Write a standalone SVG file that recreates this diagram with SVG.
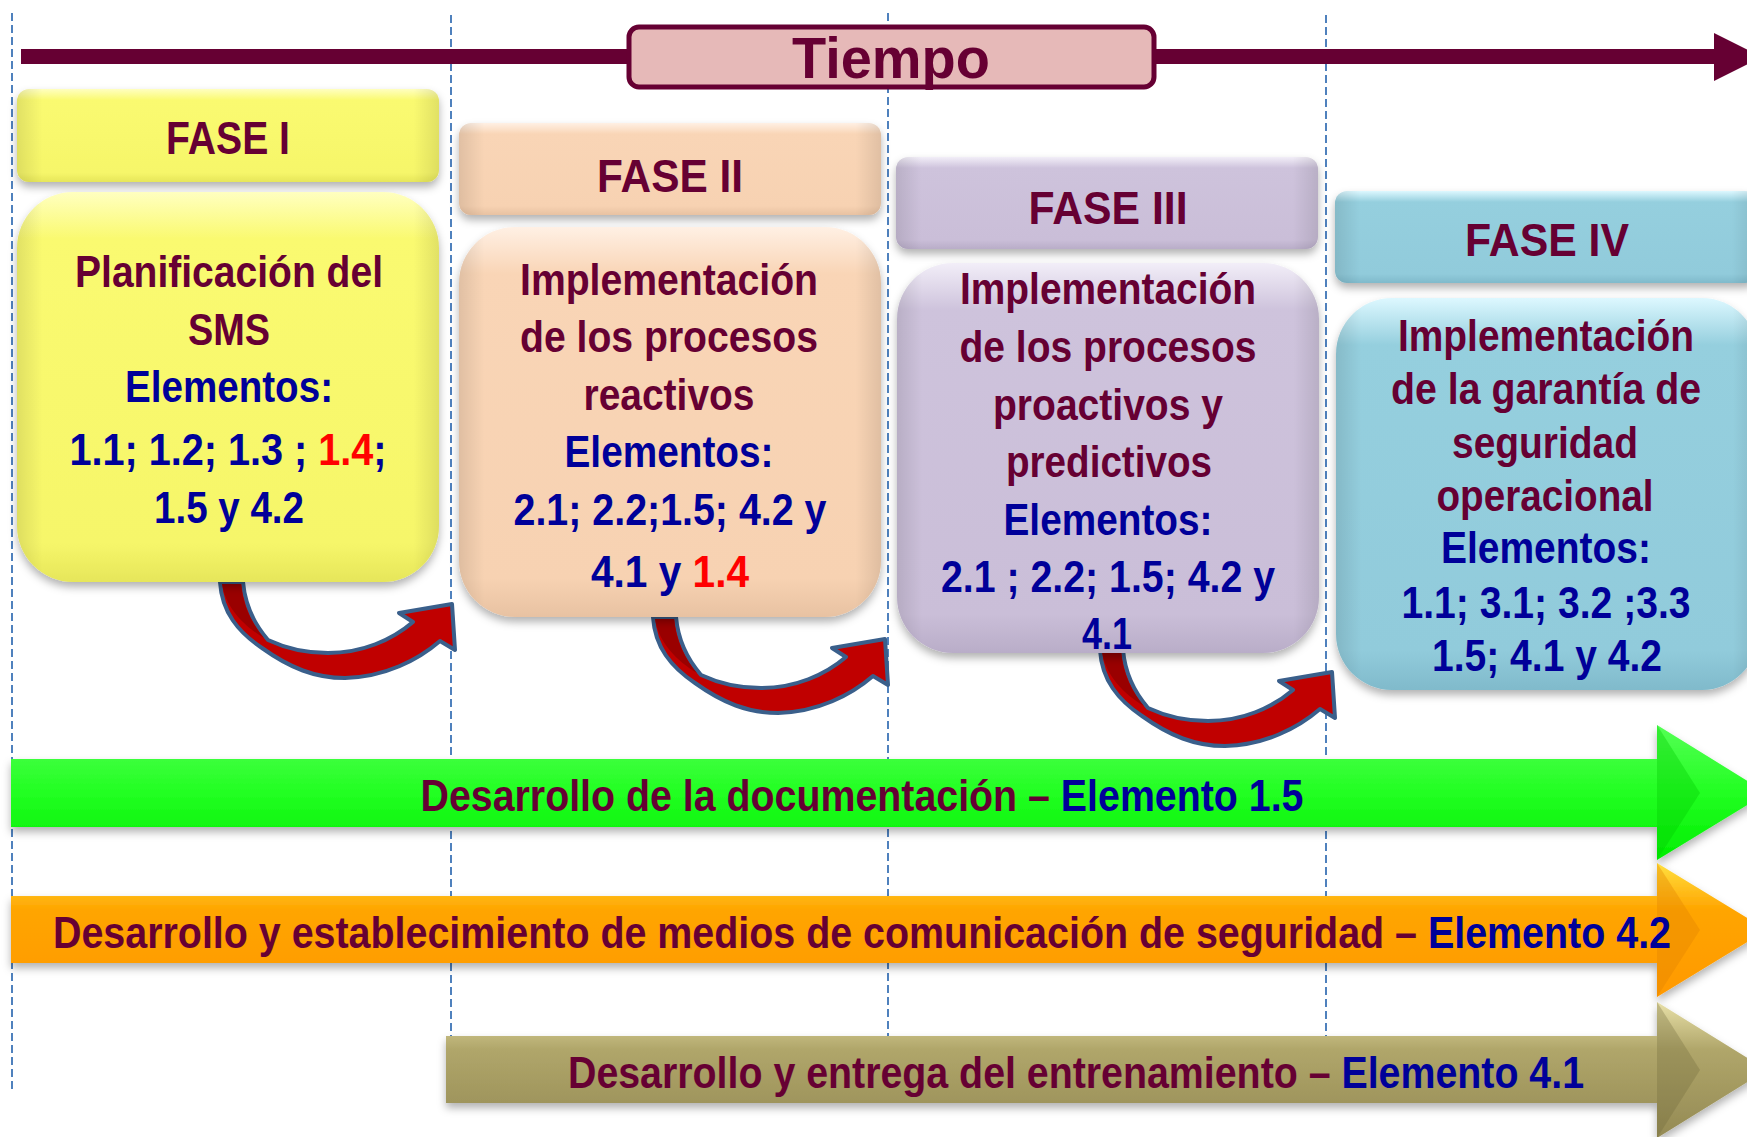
<svg xmlns="http://www.w3.org/2000/svg" width="1747" height="1137" viewBox="0 0 1747 1137">
<defs>
<style>
.t{font-family:"Liberation Sans",Arial,sans-serif;font-weight:bold;text-anchor:middle}
.m{fill:#660033}.b{fill:#000099}
.h{font-size:46px}.c{font-size:44px}.bt{font-size:45px}
.dash{stroke:#4F81BD;stroke-width:2;stroke-dasharray:8 4;fill:none}
.arr{fill:#C00000;stroke:#3A5F8B;stroke-width:4;stroke-linejoin:round}
.side{fill:url(#side)}
</style>
<filter id="sh" x="-10%" y="-10%" width="120%" height="130%">
<feDropShadow dx="0" dy="5" stdDeviation="4" flood-color="#000" flood-opacity="0.3"/>
</filter>
<linearGradient id="gy" x1="0" y1="0" x2="0" y2="1">
<stop offset="0" stop-color="#FFFFC0"/><stop offset="0.12" stop-color="#FAFA70"/><stop offset="0.9" stop-color="#F6F66A"/><stop offset="1" stop-color="#E6E65A"/>
</linearGradient>
<linearGradient id="gp" x1="0" y1="0" x2="0" y2="1">
<stop offset="0" stop-color="#FFF0E4"/><stop offset="0.12" stop-color="#F9D5B6"/><stop offset="0.9" stop-color="#F7D2B2"/><stop offset="1" stop-color="#E8C2A2"/>
</linearGradient>
<linearGradient id="gl" x1="0" y1="0" x2="0" y2="1">
<stop offset="0" stop-color="#F2EEF8"/><stop offset="0.12" stop-color="#CEC3DC"/><stop offset="0.9" stop-color="#CABED8"/><stop offset="1" stop-color="#B9ADC8"/>
</linearGradient>
<linearGradient id="gb" x1="0" y1="0" x2="0" y2="1">
<stop offset="0" stop-color="#DDF8FF"/><stop offset="0.12" stop-color="#95CFDE"/><stop offset="0.9" stop-color="#91CBDB"/><stop offset="1" stop-color="#80BACB"/>
</linearGradient>
<linearGradient id="side" x1="0" y1="0" x2="1" y2="0">
<stop offset="0" stop-color="#000" stop-opacity="0.1"/><stop offset="0.06" stop-color="#000" stop-opacity="0"/><stop offset="0.94" stop-color="#000" stop-opacity="0"/><stop offset="1" stop-color="#000" stop-opacity="0.1"/>
</linearGradient>
<linearGradient id="ggreen" x1="0" y1="0" x2="0" y2="1">
<stop offset="0" stop-color="#55FF55"/><stop offset="0.5" stop-color="#22FF22"/><stop offset="1" stop-color="#00EE00"/>
</linearGradient>
<linearGradient id="gorange" x1="0" y1="0" x2="0" y2="1">
<stop offset="0" stop-color="#FFE040"/><stop offset="0.35" stop-color="#FFA500"/><stop offset="1" stop-color="#FF9900"/>
</linearGradient>
<linearGradient id="golive" x1="0" y1="0" x2="0" y2="1">
<stop offset="0" stop-color="#E8E0A8"/><stop offset="0.35" stop-color="#B0A66A"/><stop offset="1" stop-color="#948A54"/>
</linearGradient>
<linearGradient id="tx1" gradientUnits="userSpaceOnUse" x1="0" y1="0" x2="1747" y2="0">
<stop offset="0" stop-color="#000099"/><stop offset="0.1803" stop-color="#000099"/><stop offset="0.1803" stop-color="#FF0000"/><stop offset="0.2158" stop-color="#FF0000"/><stop offset="0.2158" stop-color="#000099"/><stop offset="1" stop-color="#000099"/>
</linearGradient>
<linearGradient id="tx2" gradientUnits="userSpaceOnUse" x1="0" y1="0" x2="1747" y2="0">
<stop offset="0" stop-color="#000099"/><stop offset="0.3921" stop-color="#000099"/><stop offset="0.3921" stop-color="#FF0000"/><stop offset="1" stop-color="#FF0000"/>
</linearGradient>
<linearGradient id="tb1" gradientUnits="userSpaceOnUse" x1="0" y1="0" x2="1747" y2="0">
<stop offset="0" stop-color="#660033"/><stop offset="0.6039" stop-color="#660033"/><stop offset="0.6039" stop-color="#000099"/><stop offset="1" stop-color="#000099"/>
</linearGradient>
<linearGradient id="tb2" gradientUnits="userSpaceOnUse" x1="-862" y1="0" x2="885" y2="0">
<stop offset="0" stop-color="#660033"/><stop offset="0.8151" stop-color="#660033"/><stop offset="0.8151" stop-color="#000099"/><stop offset="1" stop-color="#000099"/>
</linearGradient>
<linearGradient id="tb3" gradientUnits="userSpaceOnUse" x1="0" y1="0" x2="1747" y2="0">
<stop offset="0" stop-color="#660033"/><stop offset="0.7659" stop-color="#660033"/><stop offset="0.7659" stop-color="#000099"/><stop offset="1" stop-color="#000099"/>
</linearGradient>
</defs>

<rect width="1747" height="1137" fill="#FFFFFF"/>

<g id="guides">
<line class="dash" x1="12" y1="13" x2="12" y2="1092"/>
<line class="dash" x1="451" y1="15" x2="451" y2="1040"/>
<line class="dash" x1="888" y1="13" x2="888" y2="1040"/>
<line class="dash" x1="1326" y1="15" x2="1326" y2="1040"/>
</g>

<g id="time">
<rect x="21" y="49" width="1695" height="15" fill="#660033"/>
<polygon points="1714,33 1762,57 1714,81" fill="#660033"/>
<rect x="629" y="27" width="525" height="60" rx="10" fill="#E6B9B8" stroke="#660033" stroke-width="5"/>
<text class="t m" x="891" y="78" font-size="57" textLength="198" lengthAdjust="spacingAndGlyphs">Tiempo</text>
</g>

<g id="connectors">
<g id="arrow1">
<path class="arr" d="M220,582 C222,612 238,632 262,648 C290,668 315,678 345,678 C385,677 418,660 440,641 L455,650 L452,604 L399,613 L413,622 C392,640 362,653 328,653 C305,653 285,648 268,640 C255,625 245,605 243,582 Z"/>
<path d="M222,584 L241,584 C243,606 252,624 264,638 C244,626 226,608 222,584 Z" fill="#9A0000"/>
</g>
<g id="arrow2" transform="translate(433,35)">
<path class="arr" d="M220,582 C222,612 238,632 262,648 C290,668 315,678 345,678 C385,677 418,660 440,641 L455,650 L452,604 L399,613 L413,622 C392,640 362,653 328,653 C305,653 285,648 268,640 C255,625 245,605 243,582 Z"/>
<path d="M222,584 L241,584 C243,606 252,624 264,638 C244,626 226,608 222,584 Z" fill="#9A0000"/>
</g>
<g id="arrow3" transform="translate(880,68)">
<path class="arr" d="M220,582 C222,612 238,632 262,648 C290,668 315,678 345,678 C385,677 418,660 440,641 L455,650 L452,604 L399,613 L413,622 C392,640 362,653 328,653 C305,653 285,648 268,640 C255,625 245,605 243,582 Z"/>
<path d="M222,584 L241,584 C243,606 252,624 264,638 C244,626 226,608 222,584 Z" fill="#9A0000"/>
</g>
</g>

<g id="fase1">
<rect x="17" y="89" width="422" height="93" rx="12" fill="url(#gy)" filter="url(#sh)"/>
<rect class="side" x="17" y="89" width="422" height="93" rx="12"/>
<text class="t m h" x="228" y="154" textLength="124" lengthAdjust="spacingAndGlyphs">FASE I</text>
<rect x="17" y="192" width="422" height="390" rx="56" fill="url(#gy)" filter="url(#sh)"/>
<rect class="side" x="17" y="192" width="422" height="390" rx="56"/>
<text class="t m c" x="229" y="287" textLength="308" lengthAdjust="spacingAndGlyphs">Planificación del</text>
<text class="t m c" x="229" y="345" textLength="82" lengthAdjust="spacingAndGlyphs">SMS</text>
<text class="t b c" x="229" y="402" textLength="208" lengthAdjust="spacingAndGlyphs">Elementos:</text>
<text class="t c" x="228" y="465" textLength="317" lengthAdjust="spacingAndGlyphs" fill="url(#tx1)">1.1; 1.2; 1.3 ; 1.4;</text>
<text class="t b c" x="229" y="523" textLength="150" lengthAdjust="spacingAndGlyphs">1.5 y 4.2</text>
</g>

<g id="fase2">
<rect x="459" y="123" width="422" height="92" rx="12" fill="url(#gp)" filter="url(#sh)"/>
<rect class="side" x="459" y="123" width="422" height="92" rx="12"/>
<text class="t m h" x="670" y="192" textLength="146" lengthAdjust="spacingAndGlyphs">FASE II</text>
<rect x="459" y="227" width="422" height="390" rx="56" fill="url(#gp)" filter="url(#sh)"/>
<rect class="side" x="459" y="227" width="422" height="390" rx="56"/>
<text class="t m c" x="669" y="295" textLength="298" lengthAdjust="spacingAndGlyphs">Implementación</text>
<text class="t m c" x="669" y="352" textLength="298" lengthAdjust="spacingAndGlyphs">de los procesos</text>
<text class="t m c" x="669" y="410" textLength="171" lengthAdjust="spacingAndGlyphs">reactivos</text>
<text class="t b c" x="669" y="467" textLength="209" lengthAdjust="spacingAndGlyphs">Elementos:</text>
<text class="t b c" x="670" y="525" textLength="313" lengthAdjust="spacingAndGlyphs">2.1; 2.2;1.5; 4.2 y</text>
<text class="t c" x="670" y="587" textLength="158" lengthAdjust="spacingAndGlyphs" fill="url(#tx2)">4.1 y 1.4</text>
</g>

<g id="fase3">
<rect x="896" y="157" width="422" height="92" rx="12" fill="url(#gl)" filter="url(#sh)"/>
<rect class="side" x="896" y="157" width="422" height="92" rx="12"/>
<text class="t m h" x="1108" y="224" textLength="159" lengthAdjust="spacingAndGlyphs">FASE III</text>
<rect x="897" y="263" width="422" height="390" rx="56" fill="url(#gl)" filter="url(#sh)"/>
<rect class="side" x="897" y="263" width="422" height="390" rx="56"/>
<text class="t m c" x="1108" y="304" textLength="296" lengthAdjust="spacingAndGlyphs">Implementación</text>
<text class="t m c" x="1108" y="362" textLength="297" lengthAdjust="spacingAndGlyphs">de los procesos</text>
<text class="t m c" x="1108" y="420" textLength="230" lengthAdjust="spacingAndGlyphs">proactivos y</text>
<text class="t m c" x="1109" y="477" textLength="206" lengthAdjust="spacingAndGlyphs">predictivos</text>
<text class="t b c" x="1108" y="535" textLength="209" lengthAdjust="spacingAndGlyphs">Elementos:</text>
<text class="t b c" x="1108" y="592" textLength="334" lengthAdjust="spacingAndGlyphs">2.1 ; 2.2; 1.5; 4.2 y</text>
<text class="t b c" x="1107" y="649" textLength="50" lengthAdjust="spacingAndGlyphs">4.1</text>
</g>

<g id="fase4">
<rect x="1335" y="191" width="422" height="92" rx="12" fill="url(#gb)" filter="url(#sh)"/>
<rect class="side" x="1335" y="191" width="422" height="92" rx="12"/>
<text class="t m h" x="1547" y="256" textLength="164" lengthAdjust="spacingAndGlyphs">FASE IV</text>
<rect x="1336" y="298" width="422" height="392" rx="56" fill="url(#gb)" filter="url(#sh)"/>
<rect class="side" x="1336" y="298" width="422" height="392" rx="56"/>
<text class="t m c" x="1546" y="351" textLength="296" lengthAdjust="spacingAndGlyphs">Implementación</text>
<text class="t m c" x="1546" y="404" textLength="310" lengthAdjust="spacingAndGlyphs">de la garantía de</text>
<text class="t m c" x="1545" y="458" textLength="186" lengthAdjust="spacingAndGlyphs">seguridad</text>
<text class="t m c" x="1545" y="511" textLength="217" lengthAdjust="spacingAndGlyphs">operacional</text>
<text class="t b c" x="1546" y="563" textLength="210" lengthAdjust="spacingAndGlyphs">Elementos:</text>
<text class="t b c" x="1546" y="618" textLength="289" lengthAdjust="spacingAndGlyphs">1.1; 3.1; 3.2 ;3.3</text>
<text class="t b c" x="1547" y="671" textLength="230" lengthAdjust="spacingAndGlyphs">1.5; 4.1 y 4.2</text>
</g>

<g id="bar-documentacion">
<path d="M11,759 H1657 V725 L1767,793 L1657,860 V827 H11 Z" fill="url(#ggreen)" filter="url(#sh)"/>
<polygon points="1657,725 1700,793 1657,860" fill="#00C800" opacity="0.35"/>
<text class="t bt" x="862" y="811" textLength="883" lengthAdjust="spacingAndGlyphs" fill="url(#tb1)">Desarrollo de la documentación – Elemento 1.5</text>
</g>

<g id="bar-comunicacion">
<path d="M11,896 H1657 V863 L1767,930 L1657,997 V963 H11 Z" fill="url(#gorange)" filter="url(#sh)"/>
<polygon points="1657,863 1700,930 1657,997" fill="#E08000" opacity="0.35"/>
<text class="t" font-size="40" transform="translate(862,948) scale(1,1.13)" x="0" y="0" textLength="1618" lengthAdjust="spacingAndGlyphs" fill="url(#tb2)">Desarrollo y establecimiento de medios de comunicación de seguridad – Elemento 4.2</text>
</g>

<g id="bar-entrenamiento">
<path d="M446,1036 H1657 V1002 L1767,1070 L1657,1138 V1103 H446 Z" fill="url(#golive)" filter="url(#sh)"/>
<polygon points="1657,1002 1700,1070 1657,1138" fill="#6E6638" opacity="0.3"/>
<text class="t bt" x="1076" y="1088" textLength="1016" lengthAdjust="spacingAndGlyphs" fill="url(#tb3)">Desarrollo y entrega del entrenamiento – Elemento 4.1</text>
</g>
</svg>
